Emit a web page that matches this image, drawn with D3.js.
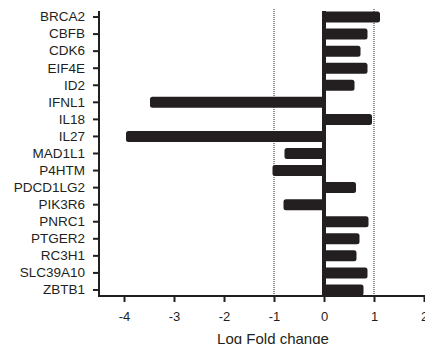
<!DOCTYPE html>
<html>
<head>
<meta charset="utf-8">
<script src="https://cdn.jsdelivr.net/npm/d3@7"></script>
<style>
  html, body { margin: 0; padding: 0; background: #fff; }
  svg { display: block; }
  text { font-family: "Liberation Sans", Arial, sans-serif; fill: #231f20; }
</style>
</head>
<body>
<svg id="chart" width="425" height="344"></svg>
<script>
const genes = ["BRCA2","CBFB","CDK6","EIF4E","ID2","IFNL1","IL18","IL27","MAD1L1","P4HTM","PDCD1LG2","PIK3R6","PNRC1","PTGER2","RC3H1","SLC39A10","ZBTB1"];
const logFC = [1.12, 0.87, 0.73, 0.87, 0.61, -3.48, 0.96, -3.96, -0.79, -1.03, 0.64, -0.81, 0.89, 0.71, 0.65, 0.87, 0.79];
const xTicks = [-4, -3, -2, -1, 0, 1, 2];
const refLines = [-1, 1];
const xTitle = "Log Fold change";

const ink = "#231f20";
const svg = d3.select("#chart");

const x = d3.scaleLinear().domain([-4.5, 2]).range([99, 424]);
const y = d3.scaleBand().domain(genes).range([8.5, 298.5]).paddingInner(0.36).paddingOuter(0.18);

// dotted reference lines
svg.selectAll("line.ref").data(refLines).join("line")
  .attr("class", "ref")
  .attr("x1", d => x(d)).attr("x2", d => x(d))
  .attr("y1", 9).attr("y2", 296)
  .attr("stroke", ink).attr("stroke-width", 1)
  .attr("stroke-dasharray", "1,1");

// bars
const data = genes.map((g, i) => ({ g, v: logFC[i] }));
svg.selectAll("rect.bar").data(data).join("rect")
  .attr("class", "bar")
  .attr("x", d => Math.min(x(0), x(d.v)))
  .attr("width", d => Math.abs(x(d.v) - x(0)))
  .attr("y", d => y(d.g) + (y.bandwidth() - 11) / 2)
  .attr("height", 11)
  .attr("rx", 2.5).attr("ry", 2.5)
  .attr("fill", ink);

// zero line
svg.append("line")
  .attr("x1", x(0)).attr("x2", x(0))
  .attr("y1", 11).attr("y2", 296)
  .attr("stroke", ink).attr("stroke-width", 4);

// y axis
const yAxis = d3.axisLeft(y).tickSize(6).tickPadding(8).tickSizeOuter(0);
const gy = svg.append("g").attr("transform", "translate(99,0)").call(yAxis);
gy.select(".domain").attr("stroke", ink).attr("stroke-width", 2).attr("d", "M0,11V297");
gy.selectAll(".tick line").attr("stroke", ink).attr("stroke-width", 2);
gy.selectAll(".tick text").attr("font-size", 13.5).style("fill", ink)
  .style("font-family", "'Liberation Sans', Arial, sans-serif");

// x axis
const xAxis = d3.axisBottom(x).tickValues(xTicks).tickSize(6).tickPadding(10).tickSizeOuter(0)
  .tickFormat(d => d3.format("d")(d).replace("−", "-"));
const gx = svg.append("g").attr("transform", "translate(0,296)").call(xAxis);
gx.select(".domain").attr("stroke", ink).attr("stroke-width", 2).attr("d", "M98,0H425");
gx.selectAll(".tick line").attr("stroke", ink).attr("stroke-width", 2);
gx.selectAll(".tick text").attr("font-size", 13).style("fill", ink)
  .style("font-family", "'Liberation Sans', Arial, sans-serif");

// x title
svg.append("text")
  .attr("x", 273).attr("y", 343.5)
  .attr("text-anchor", "middle")
  .attr("font-size", 15)
  .text(xTitle);
</script>
</body>
</html>
